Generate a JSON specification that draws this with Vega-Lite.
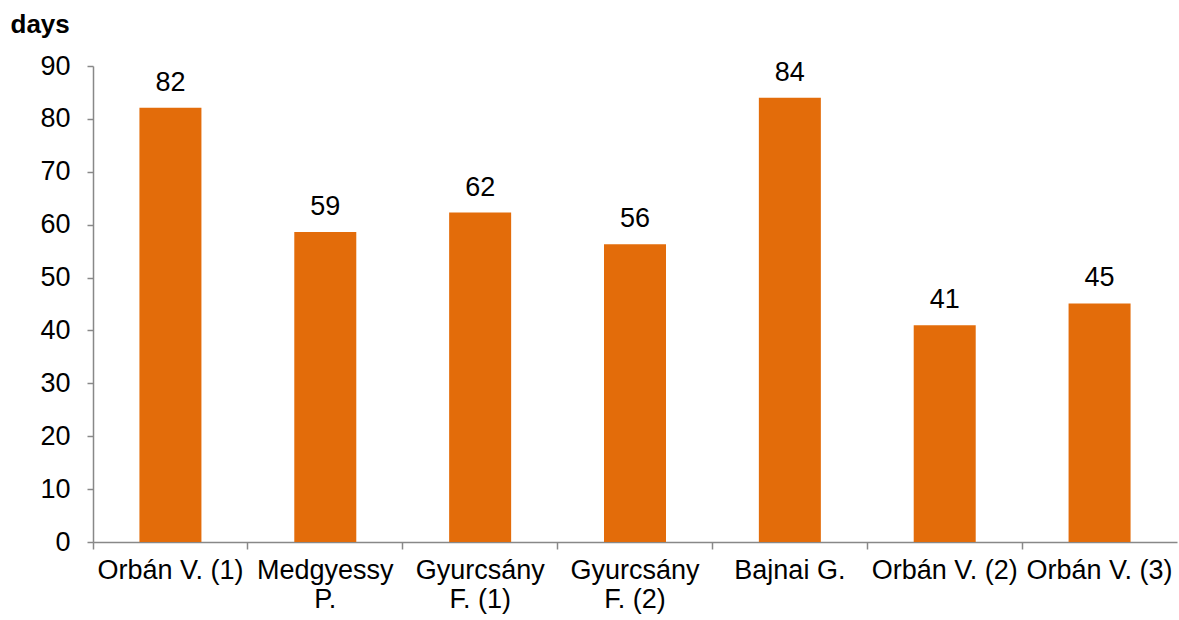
{
  "$schema": "https://vega.github.io/schema/vega-lite/v6.json",
  "width": 1084,
  "height": 476,
  "autosize": "none",
  "padding": {"left": 93, "top": 66, "right": 2, "bottom": 78},
  "background": "white",
  "config": {"view": {"stroke": null}, "font": "Liberation Sans"},
  "data": {"values": [
    {"pm": "Orbán V. (1)", "days": 82.1},
    {"pm": "Medgyessy|P.", "days": 58.6},
    {"pm": "Gyurcsány|F. (1)", "days": 62.3},
    {"pm": "Gyurcsány|F. (2)", "days": 56.3},
    {"pm": "Bajnai G.", "days": 84.0},
    {"pm": "Orbán V. (2)", "days": 41.0},
    {"pm": "Orbán V. (3)", "days": 45.1}
  ]},
  "encoding": {
    "x": {"field": "pm", "type": "nominal", "sort": null,
      "scale": {"paddingInner": 0, "paddingOuter": 0},
      "axis": {"title": null, "labelAngle": 0, "labelFontSize": 27, "labelColor": "black",
        "labelExpr": "split(datum.label, '|')", "labelLineHeight": 29,
        "labelPadding": 8, "domainColor": "#888888", "tickColor": "#888888",
        "tickSize": 7, "bandPosition": 0, "domainWidth": 1.5, "tickWidth": 1.5, "labelBaseline": "top"}},
    "y": {"field": "days", "type": "quantitative",
      "scale": {"domain": [0, 90], "nice": false},
      "axis": {"values": [0,10,20,30,40,50,60,70,80,90], "grid": false,
        "labelFontSize": 27, "labelColor": "black", "labelPadding": 17,
        "domainColor": "#888888", "tickColor": "#888888", "tickSize": 6,
        "domainWidth": 1.5, "tickWidth": 1.5,
        "title": "days", "titleAngle": 0, "titleFontSize": 26, "titleFontWeight": "bold",
        "titleColor": "black", "titleAlign": "left", "titleBaseline": "alphabetic",
        "titleX": -83, "titleY": -34}}
  },
  "layer": [
    {"mark": {"type": "bar", "size": 62, "color": "#E36C0A"}},
    {"mark": {"type": "text", "baseline": "alphabetic", "dy": -17, "fontSize": 27, "color": "black"},
     "encoding": {"text": {"field": "days", "type": "quantitative", "format": ".0f"}}}
  ]
}
